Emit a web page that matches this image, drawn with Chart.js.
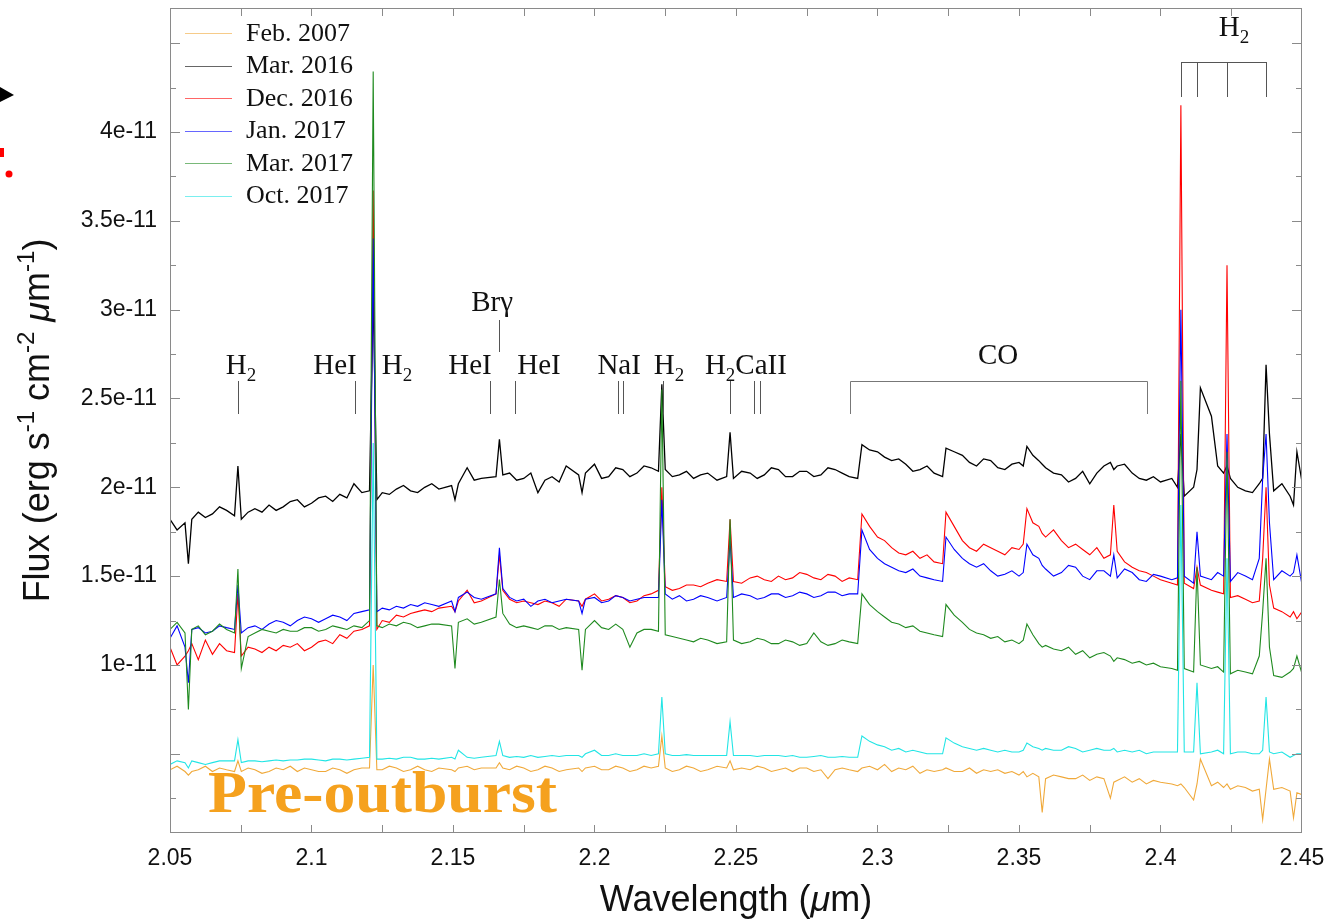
<!DOCTYPE html>
<html><head><meta charset="utf-8">
<script src="https://cdn.jsdelivr.net/npm/chart.js@4.4.1/dist/chart.umd.min.js"></script>
<style>html,body{margin:0;padding:0;background:#fff;}#wrap{width:1326px;height:923px;position:relative;}</style>
</head><body><div id="wrap"><canvas id="c" width="1326" height="923"></canvas></div>
<script>
// ---- DATA (flux in units of 1e-11 erg s^-1 cm^-2 um^-1) ----
const wavelengths = [
 2.050, 2.0525, 2.0553, 2.0565, 2.0577, 2.060, 2.0625, 2.065, 2.0675, 2.070,
 2.0728, 2.0740, 2.0752, 2.0776, 2.080, 2.0825, 2.085, 2.0875, 2.090, 2.0925,
 2.095, 2.0975, 2.100, 2.1025, 2.105, 2.1075, 2.110, 2.1125, 2.115, 2.1178,
 2.1205, 2.1218, 2.1231, 2.125, 2.1275, 2.130, 2.1325, 2.135, 2.1375, 2.140,
 2.1425, 2.145, 2.1495, 2.1507, 2.1519, 2.155, 2.1575, 2.160, 2.1652, 2.1664,
 2.1676, 2.170, 2.1725, 2.175, 2.1775, 2.180, 2.1825, 2.185, 2.1875, 2.190,
 2.1944, 2.1956, 2.1968, 2.200, 2.2025, 2.205, 2.2075, 2.210, 2.2125, 2.215,
 2.2175, 2.220, 2.2226, 2.2238, 2.2250, 2.2275, 2.230, 2.2325, 2.235, 2.2375,
 2.240, 2.2433, 2.2467, 2.2479, 2.2491, 2.2520, 2.255, 2.2575, 2.260, 2.2625,
 2.265, 2.2675, 2.270, 2.2725, 2.275, 2.2775, 2.280, 2.2825, 2.285, 2.2875,
 2.290, 2.2930, 2.2945, 2.2972, 2.300, 2.3025, 2.305, 2.3075, 2.310, 2.3125,
 2.315, 2.3175, 2.320, 2.3230, 2.3242, 2.3271, 2.330, 2.3325, 2.335, 2.3375,
 2.340, 2.3425, 2.345, 2.3475, 2.350, 2.3515, 2.3528, 2.3549, 2.3570, 2.3582,
 2.3594, 2.3622, 2.365, 2.3675, 2.370, 2.3725, 2.375, 2.3775, 2.380, 2.3823,
 2.3835, 2.3847, 2.3873, 2.390, 2.3925, 2.395, 2.3975, 2.400, 2.404, 2.4060,
 2.4072, 2.4084, 2.4117, 2.4129, 2.4141, 2.4180, 2.4202, 2.4223, 2.4235, 2.4247,
 2.4273, 2.430, 2.4325, 2.4349, 2.4361, 2.4373, 2.4385, 2.440, 2.4429, 2.4458,
 2.4470, 2.4482, 2.450];

const fluxFeb2007 = [
 0.41, 0.43, 0.40, 0.38, 0.40, 0.41, 0.43, 0.40, 0.42, 0.41,
 0.40, 0.46, 0.40, 0.42, 0.41, 0.39, 0.40, 0.42, 0.41, 0.43,
 0.40, 0.42, 0.41, 0.40, 0.40, 0.42, 0.41, 0.39, 0.41, 0.42,
 0.42, 1.00, 0.41, 0.41, 0.43, 0.42, 0.40, 0.41, 0.43, 0.41,
 0.40, 0.42, 0.41, 0.40, 0.42, 0.43, 0.41, 0.42, 0.42, 0.45,
 0.42, 0.41, 0.43, 0.42, 0.40, 0.41, 0.43, 0.42, 0.40, 0.41,
 0.42, 0.40, 0.42, 0.43, 0.41, 0.41, 0.43, 0.42, 0.40, 0.41,
 0.43, 0.42, 0.43, 0.60, 0.42, 0.40, 0.41, 0.43, 0.42, 0.40,
 0.41, 0.43, 0.42, 0.46, 0.41, 0.42, 0.41, 0.43, 0.42, 0.40,
 0.41, 0.42, 0.40, 0.42, 0.42, 0.40, 0.41, 0.36, 0.41, 0.42,
 0.41, 0.40, 0.42, 0.43, 0.41, 0.44, 0.40, 0.42, 0.41, 0.43,
 0.39, 0.41, 0.40, 0.41, 0.42, 0.40, 0.40, 0.42, 0.39, 0.41,
 0.40, 0.41, 0.39, 0.40, 0.38, 0.40, 0.37, 0.39, 0.37, 0.17,
 0.36, 0.38, 0.37, 0.36, 0.36, 0.38, 0.35, 0.37, 0.36, 0.25,
 0.34, 0.35, 0.37, 0.34, 0.36, 0.33, 0.35, 0.34, 0.33, 0.32,
 0.33, 0.31, 0.24, 0.33, 0.47, 0.32, 0.34, 0.31, 0.33, 0.30,
 0.32, 0.31, 0.29, 0.30, 0.13, 0.30, 0.47, 0.30, 0.31, 0.29,
 0.14, 0.28, 0.27];

const fluxMar2016 = [
 1.82, 1.76, 1.80, 1.57, 1.82, 1.86, 1.83, 1.85, 1.89, 1.87,
 1.84, 2.12, 1.82, 1.86, 1.88, 1.86, 1.90, 1.87, 1.89, 1.92,
 1.93, 1.89, 1.91, 1.94, 1.95, 1.92, 1.96, 1.94, 2.02, 1.97,
 1.98, 3.10, 1.93, 1.97, 1.96, 1.99, 2.01, 1.98, 1.97, 2.00,
 2.02, 1.99, 2.01, 1.93, 2.02, 2.11, 2.04, 2.05, 2.06, 2.27,
 2.07, 2.08, 2.04, 2.05, 2.08, 1.97, 2.04, 2.06, 2.03, 2.12,
 2.07, 1.97, 2.08, 2.13, 2.05, 2.06, 2.11, 2.10, 2.06, 2.08,
 2.12, 2.11, 2.09, 2.58, 2.10, 2.06, 2.07, 2.09, 2.05, 2.07,
 2.08, 2.04, 2.06, 2.31, 2.05, 2.09, 2.08, 2.05, 2.07, 2.11,
 2.10, 2.06, 2.06, 2.09, 2.09, 2.06, 2.07, 2.11, 2.10, 2.08,
 2.06, 2.05, 2.24, 2.21, 2.20, 2.17, 2.15, 2.16, 2.13, 2.09,
 2.10, 2.12, 2.08, 2.06, 2.22, 2.20, 2.18, 2.14, 2.12, 2.16,
 2.15, 2.11, 2.10, 2.13, 2.14, 2.12, 2.23, 2.18, 2.15, 2.13,
 2.11, 2.08, 2.07, 2.03, 2.05, 2.09, 2.02, 2.08, 2.12, 2.14,
 2.10, 2.12, 2.13, 2.08, 2.05, 2.04, 2.06, 2.03, 2.05, 2.00,
 2.30, 1.95, 2.00, 2.10, 2.56, 2.40, 2.12, 2.08, 2.12, 2.05,
 2.00, 1.98, 1.97, 2.02, 2.05, 2.69, 2.30, 1.98, 2.02, 1.95,
 1.90, 2.20, 2.03];

const fluxDec2016 = [
 1.10, 1.00, 1.05, 1.08, 1.12, 1.03, 1.14, 1.06, 1.12, 1.08,
 1.07, 1.40, 1.05, 1.10, 1.09, 1.07, 1.10, 1.08, 1.11, 1.10,
 1.12, 1.08, 1.10, 1.13, 1.14, 1.12, 1.17, 1.15, 1.19, 1.20,
 1.22, 3.67, 1.20, 1.25, 1.24, 1.28, 1.27, 1.29, 1.30, 1.31,
 1.30, 1.32, 1.33, 1.30, 1.36, 1.42, 1.35, 1.36, 1.40, 1.62,
 1.42, 1.37, 1.35, 1.36, 1.35, 1.34, 1.36, 1.35, 1.33, 1.37,
 1.36, 1.33, 1.37, 1.40, 1.36, 1.37, 1.39, 1.38, 1.35, 1.36,
 1.39, 1.40, 1.42, 2.00, 1.44, 1.42, 1.43, 1.45, 1.45, 1.44,
 1.46, 1.48, 1.47, 1.82, 1.47, 1.46, 1.49, 1.50, 1.48, 1.47,
 1.50, 1.48, 1.49, 1.52, 1.51, 1.49, 1.48, 1.51, 1.50, 1.47,
 1.49, 1.48, 1.85, 1.78, 1.72, 1.70, 1.66, 1.63, 1.62, 1.64,
 1.60, 1.62, 1.58, 1.57, 1.86, 1.78, 1.70, 1.66, 1.64, 1.68,
 1.66, 1.64, 1.62, 1.66, 1.65, 1.68, 1.88, 1.80, 1.78, 1.74,
 1.72, 1.76, 1.70, 1.66, 1.68, 1.65, 1.62, 1.66, 1.60, 1.62,
 1.90, 1.64, 1.58, 1.55, 1.53, 1.52, 1.50, 1.48, 1.46, 1.45,
 4.15, 1.46, 1.43, 1.55, 1.45, 1.42, 1.41, 1.40, 3.25, 1.38,
 1.39, 1.37, 1.35, 1.36, 1.60, 2.00, 1.45, 1.32, 1.30, 1.27,
 1.30, 1.26, 1.30];

const fluxJan2017 = [
 1.15, 1.22, 1.10, 0.90, 1.20, 1.21, 1.18, 1.19, 1.22, 1.21,
 1.20, 1.45, 1.18, 1.21, 1.22, 1.20, 1.23, 1.25, 1.24, 1.22,
 1.25, 1.27, 1.26, 1.24, 1.26, 1.28, 1.27, 1.25, 1.29, 1.30,
 1.31, 3.40, 1.30, 1.32, 1.31, 1.33, 1.32, 1.34, 1.33, 1.35,
 1.34, 1.33, 1.36, 1.30, 1.38, 1.41, 1.38, 1.37, 1.40, 1.66,
 1.43, 1.38, 1.36, 1.37, 1.33, 1.36, 1.37, 1.35, 1.36, 1.37,
 1.36, 1.29, 1.37, 1.38, 1.35, 1.36, 1.39, 1.38, 1.36, 1.37,
 1.38, 1.38, 1.38, 1.93, 1.40, 1.37, 1.39, 1.36, 1.37, 1.39,
 1.38, 1.36, 1.38, 1.70, 1.38, 1.40, 1.39, 1.37, 1.38, 1.40,
 1.40, 1.38, 1.39, 1.41, 1.40, 1.38, 1.39, 1.41, 1.41, 1.39,
 1.40, 1.40, 1.76, 1.65, 1.60, 1.57, 1.55, 1.53, 1.52, 1.54,
 1.50, 1.49, 1.48, 1.47, 1.72, 1.65, 1.60, 1.57, 1.55, 1.57,
 1.53, 1.50, 1.51, 1.53, 1.50, 1.52, 1.68, 1.62, 1.60, 1.56,
 1.54, 1.50, 1.52, 1.56, 1.55, 1.50, 1.48, 1.53, 1.53, 1.50,
 1.62, 1.49, 1.54, 1.52, 1.48, 1.47, 1.51, 1.50, 1.48, 1.49,
 3.00, 1.50, 1.46, 1.75, 1.50, 1.48, 1.52, 1.50, 2.30, 1.47,
 1.52, 1.50, 1.48, 1.60, 2.05, 2.30, 1.80, 1.48, 1.53, 1.50,
 1.52, 1.62, 1.45];

const fluxMar2017 = [
 1.20, 1.24, 1.18, 0.75, 1.20, 1.22, 1.17, 1.19, 1.23, 1.20,
 1.18, 1.54, 0.98, 1.16, 1.18, 1.20, 1.19, 1.18, 1.20, 1.19,
 1.19, 1.21, 1.21, 1.19, 1.20, 1.22, 1.21, 1.20, 1.22, 1.21,
 1.25, 4.34, 1.22, 1.21, 1.23, 1.22, 1.24, 1.23, 1.21, 1.22,
 1.23, 1.23, 1.22, 0.98, 1.24, 1.26, 1.23, 1.24, 1.27, 1.48,
 1.29, 1.23, 1.21, 1.22, 1.21, 1.20, 1.22, 1.22, 1.20, 1.21,
 1.20, 0.97, 1.20, 1.25, 1.21, 1.20, 1.23, 1.20, 1.10, 1.18,
 1.20, 1.20, 1.19, 2.55, 1.17, 1.16, 1.15, 1.14, 1.13, 1.15,
 1.14, 1.12, 1.13, 1.82, 1.14, 1.12, 1.13, 1.15, 1.14, 1.12,
 1.12, 1.14, 1.13, 1.11, 1.12, 1.18, 1.13, 1.11, 1.12, 1.14,
 1.13, 1.12, 1.40, 1.34, 1.30, 1.27, 1.24, 1.23, 1.21, 1.22,
 1.19, 1.18, 1.17, 1.16, 1.34, 1.28, 1.24, 1.20, 1.18, 1.17,
 1.15, 1.16, 1.13, 1.14, 1.12, 1.14, 1.23, 1.17, 1.12, 1.10,
 1.11, 1.09, 1.08, 1.10, 1.06, 1.08, 1.04, 1.06, 1.07, 1.05,
 1.02, 1.04, 1.03, 1.01, 1.02, 1.00, 1.01, 0.99, 0.98, 0.97,
 2.60, 0.98, 0.96, 1.55, 1.00, 0.98, 0.99, 0.96, 2.20, 0.95,
 0.97, 0.96, 0.95, 1.05, 1.30, 1.60, 1.10, 0.94, 0.93, 0.96,
 0.98, 1.05, 0.95];

const fluxOct2017 = [
 0.44, 0.46, 0.45, 0.42, 0.46, 0.45, 0.44, 0.45, 0.46, 0.46,
 0.46, 0.58, 0.45, 0.46, 0.46, 0.455, 0.46, 0.465, 0.46, 0.465,
 0.465, 0.47, 0.47, 0.465, 0.46, 0.47, 0.47, 0.465, 0.47, 0.475,
 0.48, 2.25, 0.47, 0.47, 0.475, 0.47, 0.48, 0.48, 0.47, 0.47,
 0.475, 0.47, 0.48, 0.47, 0.52, 0.48, 0.475, 0.48, 0.49, 0.57,
 0.49, 0.48, 0.485, 0.48, 0.49, 0.48, 0.485, 0.49, 0.485, 0.49,
 0.49, 0.48, 0.50, 0.52, 0.49, 0.49, 0.50, 0.49, 0.49, 0.49,
 0.50, 0.49, 0.50, 0.82, 0.50, 0.49, 0.49, 0.495, 0.49, 0.49,
 0.49, 0.49, 0.49, 0.68, 0.49, 0.49, 0.49, 0.485, 0.49, 0.49,
 0.49, 0.485, 0.49, 0.48, 0.48, 0.485, 0.49, 0.48, 0.48, 0.485,
 0.48, 0.48, 0.60, 0.57, 0.55, 0.54, 0.52, 0.53, 0.51, 0.52,
 0.51, 0.50, 0.50, 0.50, 0.59, 0.56, 0.54, 0.53, 0.52, 0.53,
 0.52, 0.51, 0.52, 0.51, 0.51, 0.52, 0.56, 0.54, 0.53, 0.52,
 0.53, 0.52, 0.52, 0.54, 0.53, 0.51, 0.52, 0.53, 0.52, 0.52,
 0.53, 0.51, 0.52, 0.51, 0.52, 0.50, 0.51, 0.51, 0.51, 0.51,
 1.90, 0.51, 0.51, 0.90, 0.50, 0.51, 0.52, 0.50, 1.60, 0.50,
 0.51, 0.51, 0.50, 0.50, 0.52, 0.82, 0.51, 0.50, 0.51, 0.48,
 0.49, 0.50, 0.50];

const seriesNames = ['Feb. 2007', 'Mar. 2016', 'Dec. 2016', 'Jan. 2017', 'Mar. 2017', 'Oct. 2017'];
const seriesColors = ['#f0a93a', '#000000', '#ff0000', '#0000ff', '#1f8a1f', '#22e5e5'];
const seriesValues = [fluxFeb2007, fluxMar2016, fluxDec2016, fluxJan2017, fluxMar2017, fluxOct2017];
const seriesOrder = [6, 5, 4, 3, 2, 1];

const xTickValues = [2.05, 2.1, 2.15, 2.2, 2.25, 2.3, 2.35, 2.4, 2.45];
const xTickLabels = ['2.05', '2.1', '2.15', '2.2', '2.25', '2.3', '2.35', '2.4', '2.45'];
const yTickValues = [1, 1.5, 2, 2.5, 3, 3.5, 4];
const yTickLabels = ['1e-11', '1.5e-11', '2e-11', '2.5e-11', '3e-11', '3.5e-11', '4e-11'];
const xMinorStep = 0.025;
const yMinorStep = 0.25;

// spectral line identifications
const lineLabels = ['H_2', 'HeI', 'H_2', 'HeI', 'HeI', 'NaI', 'H_2', 'H_2CaII'];
const lineLabelCenters = [2.0751, 2.1083, 2.1302, 2.1560, 2.1804, 2.2087, 2.2263, 2.2535];
const lineMarkers = [2.0740, 2.1154, 2.1631, 2.1719, 2.2083, 2.2101, 2.2242, 2.2479, 2.2564, 2.2585];
const brgLabel = 'Brγ';
const brgWavelength = 2.1663;
const brgLabelCenter = 2.1638;
const coBand = [2.2903, 2.3952];
const coLabelCenter = 2.3426;
const h2Group = [2.4072, 2.4129, 2.4235, 2.4373];
const h2GroupLabelCenter = 2.4260;

// ---- helpers ----
const SERIF = '"Liberation Serif", "Times New Roman", serif';
const SANS = '"Liberation Sans", Arial, sans-serif';

function parseSub(s) {
  const parts = [];
  let i = 0, buf = '';
  while (i < s.length) {
    if (s[i] === '_') { if (buf) parts.push({t: buf}); buf=''; parts.push({t: s[i+1], sub: true}); i += 2; }
    else { buf += s[i]; i++; }
  }
  if (buf) parts.push({t: buf});
  return parts;
}
function drawRich(ctx, parts, x, y, align, size, family) {
  const fontFor = p => (p.italic ? 'italic ' : '') + (p.bold ? 'bold ' : '') + ((p.sup || p.sub) ? Math.round(size * 0.66) : size) + 'px ' + family;
  let w = 0;
  parts.forEach(p => { ctx.font = fontFor(p); p.w = ctx.measureText(p.t).width; w += p.w; });
  let cx = align === 'center' ? x - w / 2 : (align === 'right' ? x - w : x);
  ctx.textAlign = 'left';
  ctx.textBaseline = 'alphabetic';
  parts.forEach(p => {
    ctx.font = fontFor(p);
    const dy = p.sup ? -size * 0.42 : (p.sub ? size * 0.24 : 0);
    ctx.fillText(p.t, cx, y + dy);
    cx += p.w;
  });
}
function seg(ctx, x1, y1, x2, y2) { ctx.beginPath(); ctx.moveTo(x1, y1); ctx.lineTo(x2, y2); ctx.stroke(); }

const overlay = {
  id: 'overlay',
  afterDatasetsDraw(chart) {
    const {ctx, chartArea: a, scales: {x, y}} = chart;
    ctx.save();
    // frame
    ctx.strokeStyle = '#8a8a8a'; ctx.lineWidth = 1;
    ctx.strokeRect(Math.round(a.left) + 0.5, Math.round(a.top) + 0.5, Math.round(a.right - a.left) - 1, Math.round(a.bottom - a.top) - 1);
    // x ticks (inward, top and bottom)
    const nX = Math.round((x.max - x.min) / xMinorStep);
    for (let i = 1; i < nX; i++) {
      const px = Math.round(x.getPixelForValue(x.min + i * xMinorStep)) + 0.5;
      seg(ctx, px, a.bottom, px, a.bottom - 8);
      seg(ctx, px, a.top, px, a.top + 8);
    }
    // y ticks (inward, left and right)
    for (let v = yMinorStep; v < y.max; v += yMinorStep) {
      const py = Math.round(y.getPixelForValue(v)) + 0.5;
      const major = Math.abs(v * 2 - Math.round(v * 2)) < 1e-6;
      const len = major ? 10 : 6;
      seg(ctx, a.left, py, a.left + len, py);
      seg(ctx, a.right, py, a.right - len, py);
    }
    // line identifications
    ctx.strokeStyle = '#555'; ctx.fillStyle = '#111';
    lineMarkers.forEach(w => { const px = Math.round(x.getPixelForValue(w)) + 0.5; seg(ctx, px, 381, px, 414); });
    lineLabels.forEach((t, i) => drawRich(ctx, parseSub(t), x.getPixelForValue(lineLabelCenters[i]), 374, 'center', 29, SERIF));
    // Br gamma
    const bx = Math.round(x.getPixelForValue(brgWavelength)) + 0.5;
    seg(ctx, bx, 320, bx, 352);
    drawRich(ctx, [{t: brgLabel}], x.getPixelForValue(brgLabelCenter), 311, 'center', 29, SERIF);
    // CO bracket
    const c1 = Math.round(x.getPixelForValue(coBand[0])) + 0.5, c2 = Math.round(x.getPixelForValue(coBand[1])) + 0.5;
    ctx.strokeStyle = '#777';
    ctx.beginPath(); ctx.moveTo(c1, 414); ctx.lineTo(c1, 381.5); ctx.lineTo(c2, 381.5); ctx.lineTo(c2, 414); ctx.stroke();
    drawRich(ctx, [{t: 'CO'}], x.getPixelForValue(coLabelCenter), 364, 'center', 29, SERIF);
    // H2 group bracket
    const hx = h2Group.map(w => Math.round(x.getPixelForValue(w)) + 0.5);
    ctx.strokeStyle = '#555';
    seg(ctx, hx[0], 62.5, hx[hx.length - 1], 62.5);
    hx.forEach(px => seg(ctx, px, 62, px, 97));
    drawRich(ctx, parseSub('H_2'), x.getPixelForValue(h2GroupLabelCenter), 36, 'center', 29, SERIF);
    // legend
    const legY = [33, 65.5, 98, 130.5, 163, 195.5];
    seriesNames.forEach((n, i) => {
      ctx.strokeStyle = seriesColors[i]; ctx.globalAlpha = 0.6; ctx.lineWidth = 1;
      seg(ctx, 185, Math.round(legY[i]) + 0.5, 232, Math.round(legY[i]) + 0.5);
      ctx.globalAlpha = 1;
      ctx.fillStyle = '#111'; ctx.font = '26px ' + SERIF; ctx.textAlign = 'left'; ctx.textBaseline = 'middle';
      ctx.fillText(n, 246, legY[i] + 1);
    });
    // Pre-outburst annotation
    ctx.fillStyle = '#f5a11e';
    ctx.font = 'bold 60px ' + SERIF; ctx.textBaseline = 'alphabetic'; ctx.textAlign = 'left';
    const tw = ctx.measureText('Pre-outburst').width;
    ctx.save(); ctx.translate(208, 812); ctx.scale(349 / tw, 1); ctx.fillText('Pre-outburst', 0, 0); ctx.restore();
    ctx.restore();
  },
  afterDraw(chart) {
    const {ctx, chartArea: a} = chart;
    ctx.save();
    ctx.fillStyle = '#111';
    // x title
    drawRich(ctx, [{t: 'Wavelength ('}, {t: 'μ', italic: true}, {t: 'm)'}], (a.left + a.right) / 2, 911, 'center', 36, SANS);
    // y title
    ctx.save();
    ctx.translate(49, (a.top + a.bottom) / 2);
    ctx.rotate(-Math.PI / 2);
    drawRich(ctx, [{t: 'Flux (erg s'}, {t: '-1', sup: true}, {t: ' cm'}, {t: '-2', sup: true}, {t: ' '}, {t: 'μ', italic: true}, {t: 'm'}, {t: '-1', sup: true}, {t: ')'}], 0, 0, 'center', 36, SANS);
    ctx.restore();
    // cropped fragments at the left edge
    ctx.fillStyle = '#000';
    ctx.beginPath(); ctx.moveTo(0, 87); ctx.lineTo(14, 95); ctx.lineTo(0, 102); ctx.closePath(); ctx.fill();
    ctx.fillStyle = '#ff0000';
    ctx.fillRect(0, 148, 4, 9);
    ctx.beginPath(); ctx.arc(9, 174, 3.5, 0, Math.PI * 2); ctx.fill();
    ctx.restore();
  }
};

const datasets = seriesNames.map((n, i) => ({
  label: n,
  data: wavelengths.map((w, j) => ({x: w, y: seriesValues[i][j]})),
  borderColor: seriesColors[i],
  borderWidth: i === 1 ? 1.3 : 1.1,
  pointRadius: 0,
  tension: 0,
  fill: false,
  order: seriesOrder[i]
}));

new Chart(document.getElementById('c'), {
  type: 'line',
  data: {datasets},
  options: {
    responsive: false,
    devicePixelRatio: 1,
    animation: false,
    layout: {padding: {left: 0, top: 8, right: 24, bottom: 0}},
    plugins: {legend: {display: false}, tooltip: {enabled: false}},
    scales: {
      x: {
        type: 'linear', min: 2.05, max: 2.45,
        grid: {display: false, drawTicks: false},
        border: {display: false},
        afterBuildTicks: s => { s.ticks = xTickValues.map(v => ({value: v})); },
        afterFit: s => { s.height = 90; s.paddingLeft = 0; s.paddingRight = 0; },
        ticks: {padding: 12, maxRotation: 0, autoSkip: false, color: '#111', font: {family: SANS, size: 23},
          callback: (v, i) => xTickLabels[i]}
      },
      y: {
        type: 'linear', min: 0.054, max: 4.698,
        grid: {display: false, drawTicks: false},
        border: {display: false},
        afterBuildTicks: s => { s.ticks = yTickValues.map(v => ({value: v})); },
        afterFit: s => { s.width = 170; s.paddingTop = 0; s.paddingBottom = 0; },
        ticks: {padding: 13, color: '#111', font: {family: SANS, size: 23},
          callback: (v, i) => yTickLabels[i]}
      }
    }
  },
  plugins: [overlay]
});
</script></body></html>
